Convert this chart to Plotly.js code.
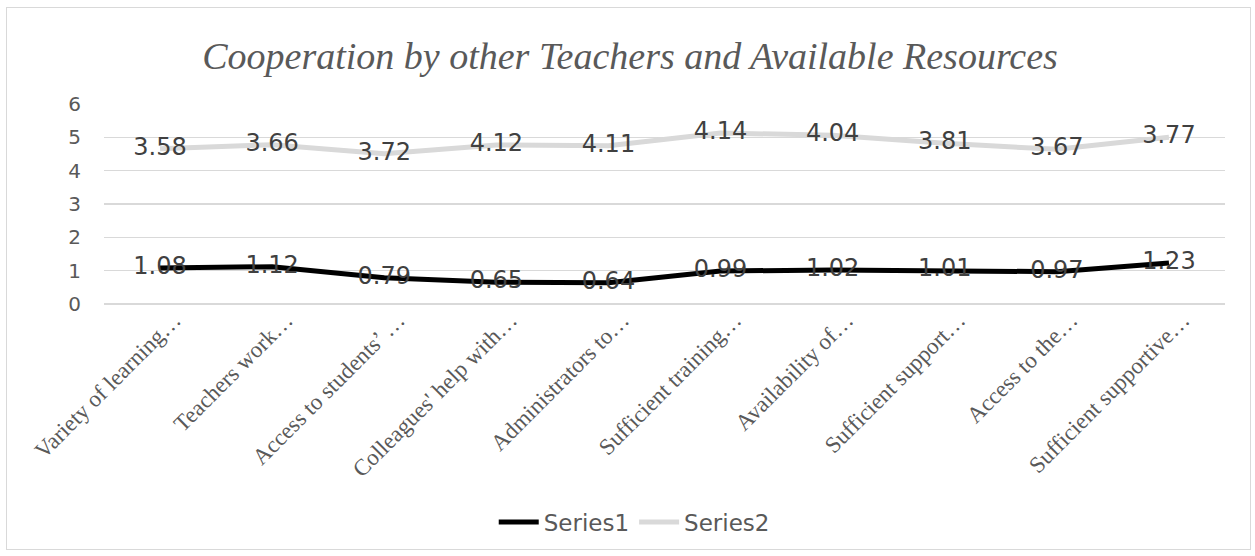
<!DOCTYPE html>
<html>
<head>
<meta charset="utf-8">
<script src="https://cdn.plot.ly/plotly-3.0.1.min.js"></script>
<style>
  html, body { margin: 0; padding: 0; background: #ffffff; }
  #wrap { position: relative; width: 1255px; height: 556px; }
  #chart { position: absolute; left: 0; top: 0; width: 1255px; height: 556px; }
  #frame { position: absolute; left: 6px; top: 7px; width: 1243px; height: 541px;
           border: 1px solid #d9d9d9; pointer-events: none; }
</style>
</head>
<body>
<div id="wrap">
  <div id="chart"></div>
  <div id="frame"></div>
</div>
<script>
// Category labels (truncated as they appear on the axis)
const categories = [
  "Variety of learning…",
  "Teachers work…",
  "Access to students’ …",
  "Colleagues' help with…",
  "Administrators to…",
  "Sufficient training…",
  "Availability of…",
  "Sufficient support…",
  "Access to the…",
  "Sufficient supportive…"
];

// Series values (Series2 is stacked on top of Series1)
const series1 = [1.08, 1.12, 0.79, 0.65, 0.64, 0.99, 1.02, 1.01, 0.97, 1.23];
const series2 = [3.58, 3.66, 3.72, 4.12, 4.11, 4.14, 4.04, 3.81, 3.67, 3.77];

const yTicks = [0, 1, 2, 3, 4, 5, 6];

const labelFont = { family: "DejaVu Sans, Verdana, sans-serif", size: 24, color: "#404040" };

const traces = [
  {
    name: "Series1",
    x: categories,
    y: series1,
    type: "scatter",
    mode: "lines+text",
    stackgroup: "one",
    fill: "none",
    line: { color: "#000000", width: 5 },
    text: series1.map(v => v.toFixed(2)),
    textposition: "middle center",
    textfont: labelFont,
    hoverinfo: "skip"
  },
  {
    name: "Series2",
    x: categories,
    y: series2,
    type: "scatter",
    mode: "lines+text",
    stackgroup: "one",
    fill: "none",
    line: { color: "#d9d9d9", width: 5 },
    text: series2.map(v => v.toFixed(2)),
    textposition: "middle center",
    textfont: labelFont,
    hoverinfo: "skip"
  }
];

const layout = {
  width: 1255,
  height: 556,
  paper_bgcolor: "#ffffff",
  plot_bgcolor: "#ffffff",
  margin: { l: 104, r: 30, t: 104, b: 252 },
  title: {
    text: "Cooperation by other Teachers and Available Resources",
    font: { family: "Liberation Serif, Times New Roman, serif", size: 38, color: "#595959", style: "italic" },
    x: 0.502,
    xanchor: "center",
    y: 0.9,
    yanchor: "middle",
    yref: "container"
  },
  xaxis: {
    type: "category",
    tickangle: -45,
    tickfont: { family: "Liberation Serif, Times New Roman, serif", size: 23, color: "#595959" },
    ticklabelshift: 14,
    ticklabelstandoff: -3,
    showgrid: false,
    showline: false,
    zeroline: false,
    ticks: "",
    fixedrange: true
  },
  yaxis: {
    range: [0, 6],
    tickvals: yTicks,
    ticktext: yTicks.map(String),
    tickfont: { family: "DejaVu Sans, Verdana, sans-serif", size: 20, color: "#595959" },
    showgrid: true,
    gridcolor: "#d9d9d9",
    gridwidth: 1.5,
    zeroline: true,
    zerolinecolor: "#d9d9d9",
    zerolinewidth: 1.5,
    showline: false,
    ticks: "",
    ticklabelstandoff: 22,
    fixedrange: true
  },
  showlegend: true,
  legend: {
    orientation: "h",
    x: 0.473,
    xanchor: "center",
    y: -1.09,
    yanchor: "middle",
    font: { family: "DejaVu Sans, Verdana, sans-serif", size: 23, color: "#595959" },
    itemwidth: 40
  }
};

Plotly.newPlot("chart", traces, layout, { displayModeBar: false, staticPlot: true });
</script>
</body>
</html>
